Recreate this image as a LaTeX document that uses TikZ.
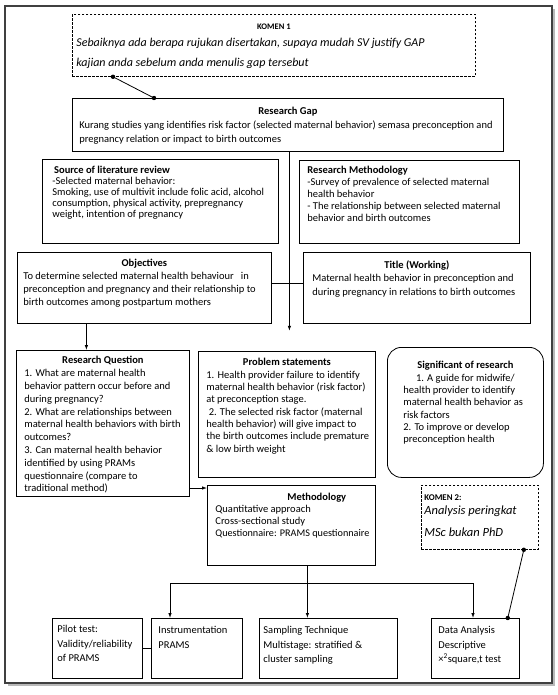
\documentclass[tikz,border=0pt]{standalone}
\usepackage{fontspec}
\setmainfont{Carlito}
\usetikzlibrary{arrows.meta,calc}
\newcommand{\pb}[4]{\parbox[c][#2pt][t]{#1pt}{\vspace*{#3pt}#4}}
\newcommand{\Lx}[1]{\mbox{#1}\par}
\newcommand{\Lb}[1]{\mbox{\bfseries #1}\par}
\newcommand{\Ct}[1]{{\centering\bfseries #1\par}}
\newcommand{\Cn}[1]{{\centering #1\par}}
\begin{document}
\begin{tikzpicture}[x=1pt,y=-1pt,
  bx/.style={draw, line width=0.8pt, anchor=north west, inner ysep=0pt, inner xsep=7pt, text=black, font=\fontsize{10.5}{12.5}\selectfont},
  lead/.style={font=\fontsize{10.5}{#1}\selectfont},
  dbx/.style={bx, dash pattern=on 2.5pt off 1.5pt},
  arr/.style={line width=0.8pt, -{Latex[length=5pt,width=3.5pt]}},
  ln/.style={line width=0.8pt},
  dot/.style={fill=black}]
\useasboundingbox (0,0) rectangle (557,695);
% frame
\fill[gray!55] (8,9) rectangle (555,686);
\draw[gray!50!black, line width=1.5pt, fill=white] (5,6) rectangle (552,683);

\node[dbx, inner xsep=4pt] (k1) at (72,14) {\pb{395}{62}{9.5}{\Ct{\fontsize{8.5}{10}\selectfont KOMEN 1}\fontsize{12}{20}\selectfont\itshape\vspace{-2.5pt}\Lx{Sebaiknya ada berapa rujukan disertakan, supaya mudah SV justify GAP}\Lx{kajian anda sebelum anda menulis gap tersebut}}};

\node[bx, lead=14] (gap) at (72,98) {\pb{417}{53}{9}{\Ct{Research Gap}\Lx{Kurang studies yang identifies risk factor (selected maternal behavior) semasa preconception and}\Lx{pregnancy relation or impact to birth outcomes}}};

\node[bx, inner xsep=10pt, lead=11] (src) at (42,159) {\pb{216}{84}{7.2}{\Lb{\,Source of literature review}\Lx{-Selected maternal behavior:}\Lx{Smoking, use of multivit include folic acid, alcohol}\Lx{consumption, physical activity, prepregnancy}\Lx{weight, intention of pregnancy}}};

\node[bx, inner xsep=8pt, lead=12] (rm) at (299,160) {\pb{204}{83}{6.2}{\Lb{Research Methodology}\Lx{-Survey of prevalence of selected maternal}\Lx{health behavior}\Lx{- The relationship between selected maternal}\Lx{behavior and birth outcomes}}};

\node[bx, inner xsep=6pt, lead=13] (obj) at (17,252) {\pb{242}{71}{7.2}{\Ct{Objectives}\Lx{To determine selected maternal health behaviour\ \ \ in}\Lx{preconception and pregnancy and their relationship to}\Lx{birth outcomes among postpartum mothers}}};

\node[bx, inner xsep=9pt, lead=13.5] (ttl) at (303,252) {\pb{209}{71}{8.2}{\Ct{Title (Working)}\Lx{Maternal health behavior in preconception and}\Lx{during pregnancy in relations to birth outcomes}}};

\node[bx, inner xsep=8pt, lead=12.8] (rq) at (16,350) {\pb{157}{146}{6.2}{\Ct{Research Question}\Lx{1. What are maternal health}\Lx{behavior pattern occur before and}\Lx{during pregnancy?}\Lx{2. What are relationships between}\Lx{maternal health behaviors with birth}\Lx{outcomes?}\Lx{3. Can maternal health behavior}\Lx{identified by using PRAMs}\Lx{questionnaire (compare to}\Lx{traditional method)}}};

\node[bx, inner xsep=8pt, lead=12.3] (ps) at (198,351) {\pb{161}{126}{7.2}{\Ct{Problem statements}\Lx{1. Health provider failure to identify}\Lx{maternal health behavior (risk factor)}\Lx{at preconception stage.}\Lx{\ 2. The selected risk factor (maternal}\Lx{health behavior) will give impact to}\Lx{the birth outcomes include premature}\Lx{\& low birth weight}}};

\node[bx, rounded corners=14pt, inner xsep=16pt, lead=12.3] (sig) at (387,347) {\pb{124}{130}{14.2}{\Ct{Significant of research}\Cn{1. A guide for midwife/}\Lx{health provider to identify}\Lx{maternal health behavior as}\Lx{risk factors}\Lx{2. To improve or develop}\Lx{preconception health}}};

\node[bx, inner xsep=8pt, lead=11.7] (meth) at (207,485) {\pb{152}{80}{8.2}{\Lb{\hspace*{72pt}Methodology}\Lx{Quantitative approach}\Lx{Cross-sectional study}\Lx{\fontsize{10.2}{11.7}\selectfont Questionnaire: PRAMS questionnaire}}};

\node[dbx, inner xsep=3pt] (k2) at (421,485) {\pb{111}{64}{9}{\Lb{\fontsize{8.8}{10}\selectfont KOMEN 2:}\fontsize{12.5}{22}\selectfont\itshape\vspace{-8pt}\Lx{Analysis peringkat}\Lx{MSc bukan PhD}}};

\node[bx, inner xsep=5pt, lead=14.5] (pilot) at (52,618) {\pb{80}{60}{7.2}{\Lx{Pilot test:}\Lx{Validity/reliability}\Lx{of PRAMS}}};
\node[bx, lead=14.5] (instr) at (151,618) {\pb{77}{60}{8.2}{\Lx{Instrumentation}\Lx{PRAMS}}};
\node[bx, inner xsep=4pt, lead=14.5] (samp) at (259,618) {\pb{130}{60}{8.2}{\Lx{Sampling Technique}\Lx{Multistage: stratified \&}\Lx{cluster sampling}}};
\node[bx, lead=14.5] (data) at (431,618) {\pb{74}{60}{8.2}{\Lx{Data Analysis}\Lx{Descriptive}\Lx{×\textsuperscript{2}square,t test}}};

% comment connectors
\coordinate (c1a) at ([xshift=41pt]k1.south west);
\coordinate (c1b) at ([xshift=82pt]gap.north west);
\draw[ln] (c1a) -- (c1b);
\fill[dot] (c1a) circle (2.2pt) (c1b) circle (2.2pt);
\coordinate (c2a) at ([xshift=-15pt]k2.south east);
\coordinate (c2b) at ([xshift=-12pt]data.north east);
\draw[ln] (c2a) -- (c2b);
\fill[dot] (c2a) circle (2.2pt) (c2b) circle (2.2pt);
% connectors
\path ([xshift=1.5pt]gap.south) ++(0,179) coordinate (gapend);
\draw[arr] ([xshift=1.5pt]gap.south) -- (gapend);
\draw[ln] ([yshift=4.5pt]obj.east) -- ([yshift=4.5pt]ttl.west);
\path ([xshift=-58pt]obj.south) coordinate (o1);
\draw[arr] (o1) -- (o1 |- rq.north);
\path ([yshift=-3pt]meth.north west) coordinate (m1);
\draw[arr] (m1 -| rq.east) -- (m1);
\path ([xshift=16pt]meth.south) coordinate (m2);
\coordinate (bl) at (170,583);
\coordinate (br) at (473,583);
\draw[ln] (m2) -- (m2 |- bl);
\draw[ln] (bl) -- (br);
\draw[arr] (bl) -- (bl |- instr.north);
\draw[arr] (m2 |- bl) -- (m2 |- samp.north);
\draw[arr] (br) -- (br |- data.north);
\draw[ln] (pilot.east) -- (instr.west);
\end{tikzpicture}
\end{document}
